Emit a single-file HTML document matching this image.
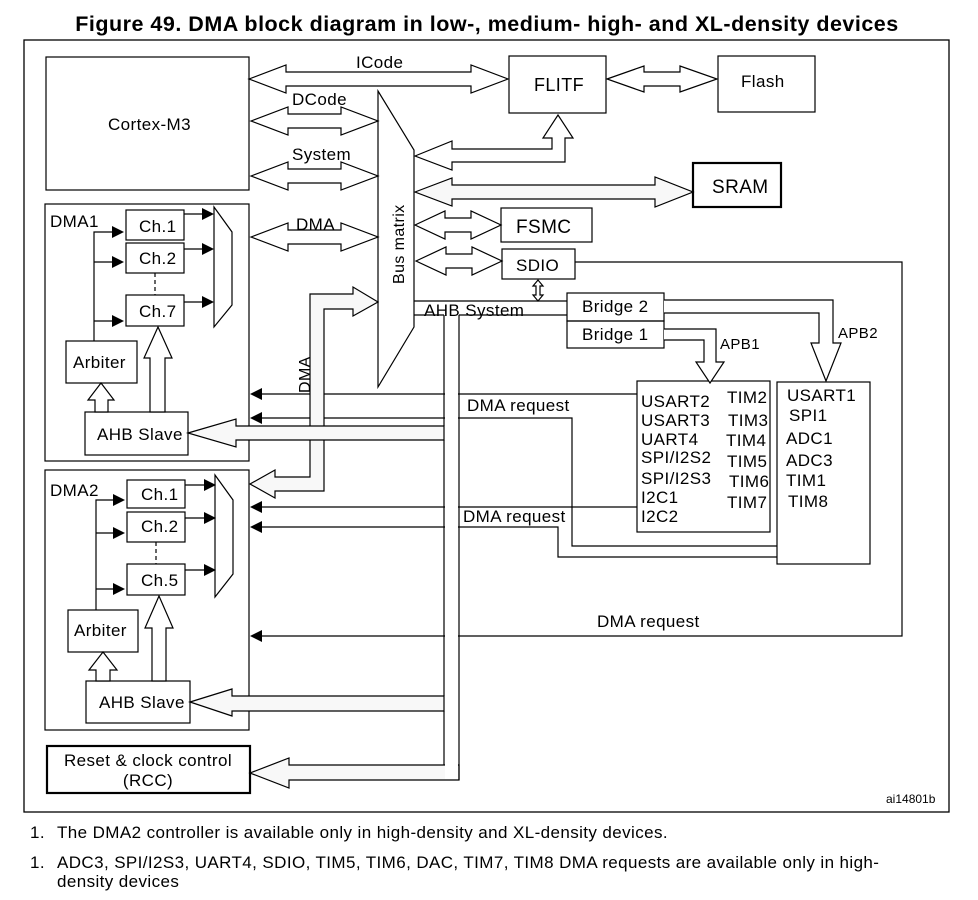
<!DOCTYPE html>
<html><head><meta charset="utf-8"><style>
body{margin:0;background:#fff;width:978px;height:900px;overflow:hidden}
svg{display:block}
text{font-family:"Liberation Sans",sans-serif;fill:#000}
</style></head><body>
<svg width="978" height="900" viewBox="0 0 978 900" xmlns="http://www.w3.org/2000/svg">
<text x="487" y="31" text-anchor="middle" font-size="21.5" font-weight="bold" letter-spacing="0.5">Figure 49. DMA block diagram in low-, medium- high- and XL-density devices</text>
<rect x="24" y="40" width="925" height="772" fill="none" stroke="#000" stroke-width="1.3"/>
<g fill="none" stroke="#000" stroke-width="1.2">
<rect x="46" y="57" width="203" height="133"/>
<rect x="509" y="56" width="97" height="57"/>
<rect x="718" y="56" width="97" height="56"/>
<rect x="693" y="163" width="88" height="44" stroke-width="2.2"/>
<rect x="501" y="208" width="91" height="34"/>
<rect x="502" y="249" width="73" height="30"/>
<rect x="567" y="293" width="97" height="28"/>
<rect x="567" y="321" width="97" height="27"/>
<rect x="637" y="381" width="133" height="151"/>
<rect x="777" y="382" width="93" height="182"/>
<rect x="45" y="204" width="204" height="257"/>
<rect x="45" y="470" width="204" height="260"/>
<rect x="47" y="746" width="203" height="47" stroke-width="2.2"/>
<polygon points="378,91 414,150 414,327 378,387" fill="#fff"/>
<rect x="126" y="210" width="58" height="30"/><rect x="126" y="243" width="58" height="30"/><rect x="126" y="295" width="58" height="31"/>
<polygon points="214,207 232,232 232,305 214,327"/>
<rect x="66" y="341" width="71" height="42"/><rect x="85" y="412" width="103" height="43"/>
<polyline points="94,341 94,232 112,232"/><line x1="94" y1="262" x2="112" y2="262"/><line x1="94" y1="321" x2="112" y2="321"/>
<line x1="184" y1="214" x2="202" y2="214"/><line x1="184" y1="249" x2="202" y2="249"/><line x1="184" y1="302" x2="202" y2="302"/>
<line x1="155" y1="273" x2="155" y2="295" stroke-dasharray="4,3"/>
<polygon points="150,412 150,358 144,358 158,327 172,358 165,358 165,412" fill="#fff"/>
<polygon points="95,412 95,400 88,400 101,383 114,400 108,400 108,412" fill="#fff"/>
<rect x="127" y="480" width="58" height="28"/><rect x="127" y="512" width="58" height="30"/><rect x="127" y="564" width="58" height="31"/>
<polygon points="215,475 233,500 233,574 215,597"/>
<rect x="68" y="610" width="70" height="42"/><rect x="86" y="681" width="104" height="42"/>
<polyline points="96,610 96,500 113,500"/><line x1="96" y1="533" x2="113" y2="533"/><line x1="96" y1="589" x2="113" y2="589"/>
<line x1="185" y1="485" x2="204" y2="485"/><line x1="185" y1="518" x2="204" y2="518"/><line x1="185" y1="570" x2="204" y2="570"/>
<line x1="156" y1="542" x2="156" y2="564" stroke-dasharray="4,3"/>
<polygon points="152,681 152,628 145,628 159,596 173,628 166,628 166,681" fill="#fff"/>
<polygon points="96,681 96,670 89,670 103,652 117,670 110,670 110,681" fill="#fff"/>
<polygon points="249,79 286,65 286,72 471,72 471,65 508,79 471,93 471,86 286,86 286,93" fill="#fff"/>
<polygon points="607,79 644,66 644,72 680,72 680,66 717,79 680,92 680,86 644,86 644,92" fill="#fff"/>
<polygon points="251,121 288,107 288,114 341,114 341,107 378,121 341,135 341,128 288,128 288,135" fill="#fff"/>
<polygon points="251,176 288,162 288,169 341,169 341,162 378,176 341,190 341,183 288,183 288,190" fill="#fff"/>
<polygon points="251,237 288,223 288,230 341,230 341,223 378,237 341,251 341,244 288,244 288,251" fill="#fff"/>
<polygon points="415,225 445,211 445,218 471,218 471,211 501,225 471,239 471,232 445,232 445,239" fill="#fff"/>
<polygon points="416,261 446,247 446,254 472,254 472,247 502,261 472,275 472,268 446,268 446,275" fill="#fff"/>
<polygon points="415,156 452,141 452,149 552,149 552,138 543,138 558,115 573,138 565,138 565,162 452,162 452,170" fill="#fff"/>
<polygon points="415,192 452,178 452,185 655,185 655,177 693,192 655,207 655,199 452,199 452,206" fill="#f8f8f8"/>
<polygon points="533,286 538,280 543,286 540,286 540,295 543,295 538,301 533,295 536,295 536,286" fill="#fff"/>
<line x1="262" y1="394" x2="637" y2="394"/>
<polyline points="262,418 572,418 572,546 777,546"/>
<line x1="262" y1="507" x2="637" y2="507"/>
<polyline points="262,527 558,527 558,557 777,557"/>
<polyline points="575,262 902,262 902,636 262,636"/>
<polyline points="664,329 716,329 716,362 724,362 710,383 696,362 704,362 704,340 664,340" fill="#fff"/>
<polyline points="664,300 833,300 833,343 841,343 826,381 811,343 819,343 819,313 664,313" fill="#fff"/>
<polygon points="378,302 353,287 353,294 310,294 310,477 275,477 275,470 250,484 275,498 275,491 324,491 324,309 353,309 353,316" fill="#f8f8f8"/>
<polygon points="188,433 236,419 236,426 444,426 444,440 236,440 236,447" fill="#f8f8f8"/>
<polygon points="190,702 232,689 232,696 444,696 444,711 232,711 232,716" fill="#f8f8f8"/>
<polygon points="250,773 289,758 289,765 444,765 459,765 459,780 289,780 289,788" fill="#f8f8f8"/>
</g>
<rect x="445" y="316" width="13" height="463" fill="#fff"/>
<g stroke="#000" stroke-width="1.2" fill="none">
<line x1="414" y1="301" x2="567" y2="301"/>
<line x1="414" y1="315" x2="444" y2="315"/><line x1="459" y1="315" x2="567" y2="315"/>
<line x1="444" y1="315" x2="444" y2="426"/><line x1="444" y1="440" x2="444" y2="696"/><line x1="444" y1="711" x2="444" y2="765"/>
<line x1="459" y1="315" x2="459" y2="780"/>
</g>
<g fill="#000">
<polygon points="202,208 214,214 202,220"/><polygon points="202,243 214,249 202,255"/><polygon points="202,296 214,302 202,308"/>
<polygon points="112,226 124,232 112,238"/><polygon points="112,256 124,262 112,268"/><polygon points="112,315 124,321 112,327"/>
<polygon points="204,479 216,485 204,491"/><polygon points="204,512 216,518 204,524"/><polygon points="204,564 216,570 204,576"/>
<polygon points="113,494 125,500 113,506"/><polygon points="113,527 125,533 113,539"/><polygon points="113,583 125,589 113,595"/>
<polygon points="262,388 250,394 262,400"/><polygon points="262,412 250,418 262,424"/><polygon points="262,501 250,507 262,513"/><polygon points="262,521 250,527 262,533"/><polygon points="262,630 250,636 262,642"/>
</g>
<g font-size="17" letter-spacing="0.4">
<text x="108" y="130">Cortex-M3</text>
<text x="356" y="68">ICode</text>
<text x="292" y="105">DCode</text>
<text x="292" y="160">System</text>
<text x="296" y="230">DMA</text>
<text x="534" y="91" font-size="18">FLITF</text>
<text x="741" y="87">Flash</text>
<text x="712" y="193" font-size="19">SRAM</text>
<text x="516" y="233" font-size="19">FSMC</text>
<text x="516" y="271">SDIO</text>
<text transform="translate(404,284) rotate(-90)" font-size="16">Bus matrix</text>
<text transform="translate(310,393) rotate(-90)" font-size="16">DMA</text>
<text x="424" y="316">AHB System</text>
<text x="582" y="312">Bridge  2</text>
<text x="582" y="340">Bridge  1</text>
<text x="720" y="349" font-size="15">APB1</text>
<text x="838" y="338" font-size="15">APB2</text>
<text x="467" y="411">DMA request</text>
<text x="463" y="522">DMA request</text>
<text x="597" y="627">DMA request</text>
<text x="641" y="407">USART2</text><text x="641" y="426">USART3</text><text x="641" y="445">UART4</text><text x="641" y="463">SPI/I2S2</text><text x="641" y="484">SPI/I2S3</text><text x="641" y="503">I2C1</text><text x="641" y="522">I2C2</text>
<text x="727" y="403">TIM2</text><text x="728" y="426">TIM3</text><text x="726" y="446">TIM4</text><text x="727" y="467">TIM5</text><text x="729" y="487">TIM6</text><text x="727" y="508">TIM7</text>
<text x="787" y="401">USART1</text><text x="789" y="421">SPI1</text><text x="786" y="444">ADC1</text><text x="786" y="466">ADC3</text><text x="786" y="486">TIM1</text><text x="788" y="507">TIM8</text>
<text x="50" y="227">DMA1</text>
<text x="139" y="232">Ch.1</text><text x="139" y="264">Ch.2</text><text x="139" y="317">Ch.7</text>
<text x="73" y="368">Arbiter</text><text x="97" y="440">AHB Slave</text>
<text x="50" y="496">DMA2</text>
<text x="141" y="500">Ch.1</text><text x="141" y="532">Ch.2</text><text x="141" y="586">Ch.5</text>
<text x="74" y="636">Arbiter</text><text x="99" y="708">AHB Slave</text>
<text x="148" y="766" text-anchor="middle">Reset &amp; clock control</text>
<text x="148" y="786" text-anchor="middle">(RCC)</text>
<text x="886" y="803" font-size="12" letter-spacing="0">ai14801b</text>
</g>
<g font-size="17" letter-spacing="0.4">
<text x="30" y="838">1.</text><text x="57" y="838">The DMA2 controller is available only in high-density and XL-density devices.</text>
<text x="30" y="868">1.</text><text x="57" y="868">ADC3, SPI/I2S3, UART4, SDIO, TIM5, TIM6, DAC, TIM7, TIM8 DMA requests are available only in high-</text>
<text x="57" y="887">density devices</text>
</g>
</svg>
</body></html>
